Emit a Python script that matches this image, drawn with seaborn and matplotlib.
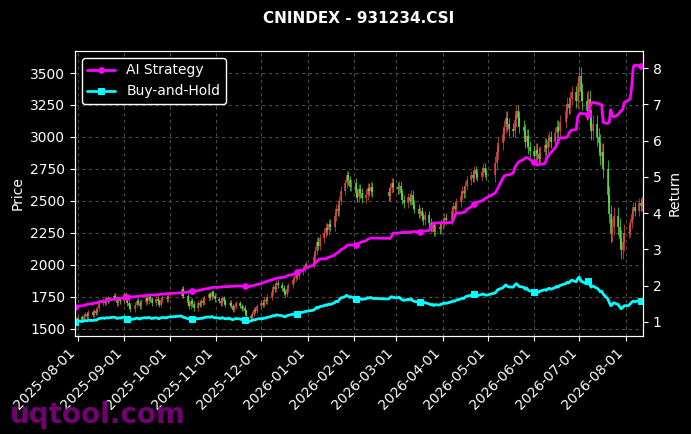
import pandas as pd
import matplotlib
matplotlib.use('Agg')
import matplotlib.pyplot as plt
import matplotlib.dates as mdates
import seaborn as sns
import numpy as np

# ========== 1. 数据 ==========
title = 'CNINDEX - 931234.CSI'

# 交易日：工作日去掉沪深节假日
holidays = ['2025-10-01', '2025-10-02', '2025-10-03', '2025-10-06', '2025-10-07', '2025-10-08',
            '2026-01-01', '2026-01-02',
            '2026-02-16', '2026-02-17', '2026-02-18', '2026-02-19', '2026-02-20', '2026-02-23',
            '2026-04-06', '2026-05-01', '2026-05-04', '2026-05-05', '2026-06-19']

# 每月收盘价
close_2025_07 = [1560, 1575]
close_2025_08 = [1590, 1572, 1600, 1615, 1598, 1630, 1612, 1640, 1625, 1660, 1700,
                 1725, 1705, 1740, 1718, 1735, 1760, 1742, 1700, 1730, 1715]
close_2025_09 = [1770, 1745, 1700, 1680, 1655, 1690, 1720, 1705, 1675, 1710, 1740,
                 1720, 1750, 1730, 1700, 1735, 1715, 1690, 1725, 1745, 1730, 1760]
close_2025_10 = [1810, 1760, 1700, 1680, 1720, 1695, 1665, 1700, 1690, 1720, 1705,
                 1740, 1770, 1750, 1785, 1760, 1735]
close_2025_11 = [1720, 1700, 1740, 1715, 1690, 1705, 1680, 1650, 1670, 1700, 1680,
                 1655, 1665, 1640, 1600, 1585, 1620, 1650, 1640, 1675]
close_2025_12 = [1700, 1690, 1725, 1715, 1750, 1790, 1830, 1810, 1860, 1845, 1820,
                 1790, 1770, 1810, 1840, 1880, 1900, 1930, 1910, 1945, 1970, 1990, 2010]
close_2026_01 = [2060, 2110, 2180, 2150, 2210, 2250, 2290, 2270, 2320, 2300, 2380,
                 2440, 2420, 2500, 2580, 2640, 2700, 2660, 2610, 2640]
close_2026_02 = [2560, 2530, 2590, 2560, 2520, 2550, 2600, 2580, 2610, 2570, 2540,
                 2600, 2640, 2610]
close_2026_03 = [2590, 2620, 2560, 2510, 2480, 2530, 2500, 2550, 2470, 2440, 2400,
                 2420, 2380, 2350, 2390, 2330, 2290, 2310, 2260, 2300, 2280, 2320]
close_2026_04 = [2330, 2370, 2350, 2420, 2460, 2440, 2490, 2540, 2580, 2560, 2620,
                 2660, 2700, 2680, 2740, 2710, 2690, 2730, 2760, 2720, 2700]
close_2026_05 = [2800, 2880, 2950, 3020, 3080, 3150, 3100, 3060, 3050, 3130, 3200,
                 3150, 3080, 3050, 2960, 3010, 2920, 2890]
close_2026_06 = [2850, 2900, 2870, 2830, 2880, 2940, 2910, 2970, 3000, 2960, 3030,
                 3080, 3050, 3120, 3200, 3260, 3230, 3300, 3350, 3280, 3420]
close_2026_07 = [3480, 3350, 3280, 3200, 3300, 3150, 3050, 3100, 3000, 2950, 2850,
                 2880, 2750, 2550, 2400, 2250, 2300, 2380, 2300, 2200, 2120, 2180, 2250]
close_2026_08 = [2260, 2330, 2400, 2450, 2420, 2480, 2460, 2500]

# 每月平均影线长度（估计）
wick_by_month = [15, 18, 22, 22, 18, 22, 35, 40, 35, 35, 50, 50, 70, 40]

# AI策略累计收益
ai_2025_07 = [1.40, 1.42]
ai_2025_08 = [1.43, 1.44, 1.46, 1.47, 1.47, 1.49, 1.50, 1.52, 1.52, 1.53, 1.55,
              1.57, 1.58, 1.58, 1.60, 1.61, 1.62, 1.63, 1.63, 1.64, 1.65]
ai_2025_09 = [1.66, 1.66, 1.67, 1.68, 1.68, 1.69, 1.70, 1.70, 1.71, 1.71, 1.72,
              1.73, 1.73, 1.74, 1.74, 1.74, 1.75, 1.75, 1.76, 1.76, 1.77, 1.78]
ai_2025_10 = [1.80, 1.81, 1.82, 1.83, 1.83, 1.84, 1.85, 1.86, 1.87, 1.88, 1.89,
              1.90, 1.92, 1.93, 1.94, 1.95, 1.95]
ai_2025_11 = [1.95, 1.96, 1.96, 1.97, 1.97, 1.97, 1.98, 1.98, 1.98, 1.99, 1.99,
              1.99, 1.98, 1.98, 1.97, 1.98, 1.99, 2.00, 2.01, 2.03]
ai_2025_12 = [2.05, 2.07, 2.09, 2.10, 2.12, 2.15, 2.17, 2.18, 2.20, 2.21, 2.22,
              2.23, 2.24, 2.26, 2.28, 2.30, 2.32, 2.35, 2.37, 2.40, 2.43, 2.46, 2.49]
ai_2026_01 = [2.56, 2.62, 2.66, 2.70, 2.73, 2.74, 2.73, 2.76, 2.78, 2.79, 2.84,
              2.88, 2.90, 2.94, 2.98, 3.05, 3.10, 3.12, 3.11, 3.12]
ai_2026_02 = [3.12, 3.13, 3.16, 3.18, 3.20, 3.24, 3.27, 3.29, 3.31, 3.31, 3.30,
              3.30, 3.36, 3.44]
ai_2026_03 = [3.45, 3.45, 3.46, 3.46, 3.47, 3.46, 3.47, 3.48, 3.48, 3.49, 3.48,
              3.49, 3.50, 3.51, 3.50, 3.52, 3.60, 3.68, 3.72, 3.72, 3.73, 3.73]
ai_2026_04 = [3.73, 3.73, 3.73, 3.74, 3.80, 3.92, 4.00, 4.00, 4.01, 4.02, 4.03,
              4.10, 4.17, 4.22, 4.26, 4.28, 4.30, 4.33, 4.36, 4.39, 4.42]
ai_2026_05 = [4.55, 4.62, 4.70, 4.95, 5.02, 5.04, 5.05, 5.05, 5.10, 5.25, 5.32,
              5.38, 5.42, 5.48, 5.52, 5.53, 5.52, 5.48]
ai_2026_06 = [5.40, 5.36, 5.32, 5.33, 5.35, 5.36, 5.45, 5.55, 5.62, 5.66, 5.80,
              5.88, 5.98, 6.07, 6.08, 6.10, 6.18, 6.26, 6.29, 6.30, 6.65]
ai_2026_07 = [6.72, 6.76, 6.74, 6.74, 6.70, 6.90, 7.02, 7.05, 7.03, 7.02, 7.00,
              6.98, 6.50, 6.47, 6.50, 6.85, 6.70, 6.65, 6.72, 6.78, 6.82, 6.86, 7.05]
ai_2026_08 = [7.12, 7.15, 7.50, 8.02, 8.08, 8.06, 8.05, 8.05]

# ========== 2. 整理 ==========
dates = pd.bdate_range('2025-07-30', '2026-08-12')
dates = dates[~dates.isin(pd.to_datetime(holidays))]

close_months = [close_2025_07, close_2025_08, close_2025_09, close_2025_10,
                close_2025_11, close_2025_12, close_2026_01, close_2026_02,
                close_2026_03, close_2026_04, close_2026_05, close_2026_06,
                close_2026_07, close_2026_08]
closes = np.array(sum(close_months, []), dtype=float)
wicks = np.concatenate([[w] * len(m) for w, m in zip(wick_by_month, close_months)])
ai = np.array(ai_2025_07 + ai_2025_08 + ai_2025_09 + ai_2025_10 + ai_2025_11 +
              ai_2025_12 + ai_2026_01 + ai_2026_02 + ai_2026_03 + ai_2026_04 +
              ai_2026_05 + ai_2026_06 + ai_2026_07 + ai_2026_08)
if len(dates) != len(closes) or len(ai) != len(closes):
    raise ValueError(f'length mismatch: {len(dates)} {len(closes)} {len(ai)}')

opens = np.concatenate([[closes[0]], closes[:-1]])
df = pd.DataFrame({'date': dates, 'open': opens, 'close': closes,
                   'ai': ai, 'bh': closes / closes[0]})
df['up'] = df['close'] >= df['open']
df['body_lo'] = df[['open', 'close']].min(axis=1)
df['body_hi'] = df[['open', 'close']].max(axis=1)
df['low'] = df['body_lo'] - wicks
df['high'] = df['body_hi'] + wicks

# ========== 3. 样式 ==========
sns.set_style('ticks', rc={
    'figure.facecolor': 'black', 'axes.facecolor': 'black',
    'axes.edgecolor': 'white', 'axes.labelcolor': 'white',
    'xtick.color': 'white', 'ytick.color': 'white', 'text.color': 'white',
    'grid.color': '#4a4a4a', 'grid.linestyle': (0, (3, 3)), 'grid.linewidth': 0.5,
})
plt.rcParams['font.family'] = ['DejaVu Sans']

fig, ax1 = plt.subplots(figsize=(6.91, 4.34), dpi=100)
fig.subplots_adjust(left=0.1085, right=0.9305, bottom=0.226, top=0.8825)

# K线
cols = np.where(df['up'], '#f0504a', '#5ef04a')
ax1.vlines(df['date'], df['low'], df['high'], colors=cols, linewidth=0.6, alpha=0.8)
ax1.vlines(df['date'], df['body_lo'], df['body_hi'], colors=cols, linewidth=1.2, alpha=0.85)
ax1.set_ylim(1445, 3672)
ax1.set_ylabel('Price')
ax1.grid(True)

# 收益曲线
ax2 = ax1.twinx()
sns.lineplot(data=df, x='date', y='ai', ax=ax2, color='#ff00ff', linewidth=2,
             marker='o', markersize=4, markevery=25, markeredgecolor='#ff00ff',
             label='AI Strategy')
sns.lineplot(data=df, x='date', y='bh', ax=ax2, color='#00ffff', linewidth=2,
             marker='s', markersize=4, markevery=25, markeredgecolor='#00ffff',
             label='Buy-and-Hold')
ax2.set_ylim(0.61, 8.47)
ax2.set_ylabel('Return')
ax2.set_xlabel('')
ax2.grid(False)
leg = ax2.legend(loc='upper left', facecolor='black', edgecolor='white', framealpha=1)
for t in leg.get_texts():
    t.set_color('white')

ax1.set_xlim(df['date'].iloc[0], df['date'].iloc[-1] + pd.Timedelta(hours=12))
ax1.xaxis.set_major_locator(mdates.MonthLocator())
ax1.xaxis.set_major_formatter(mdates.DateFormatter('%Y-%m-%d'))
plt.setp(ax1.get_xticklabels(), rotation=45, ha='right')
ax1.set_xlabel('')

for sp in list(ax1.spines.values()) + list(ax2.spines.values()):
    sp.set_visible(True)
    sp.set_color('white')

ax1.set_title(title, fontsize=11, fontweight='bold', color='white', pad=20.5)
fig.text(0.014, 0.012, 'uqtool.com', color='#800080', fontsize=20,
         fontweight='bold', alpha=0.9, ha='left', va='bottom')

plt.savefig('out.png', dpi=100, facecolor='black')
